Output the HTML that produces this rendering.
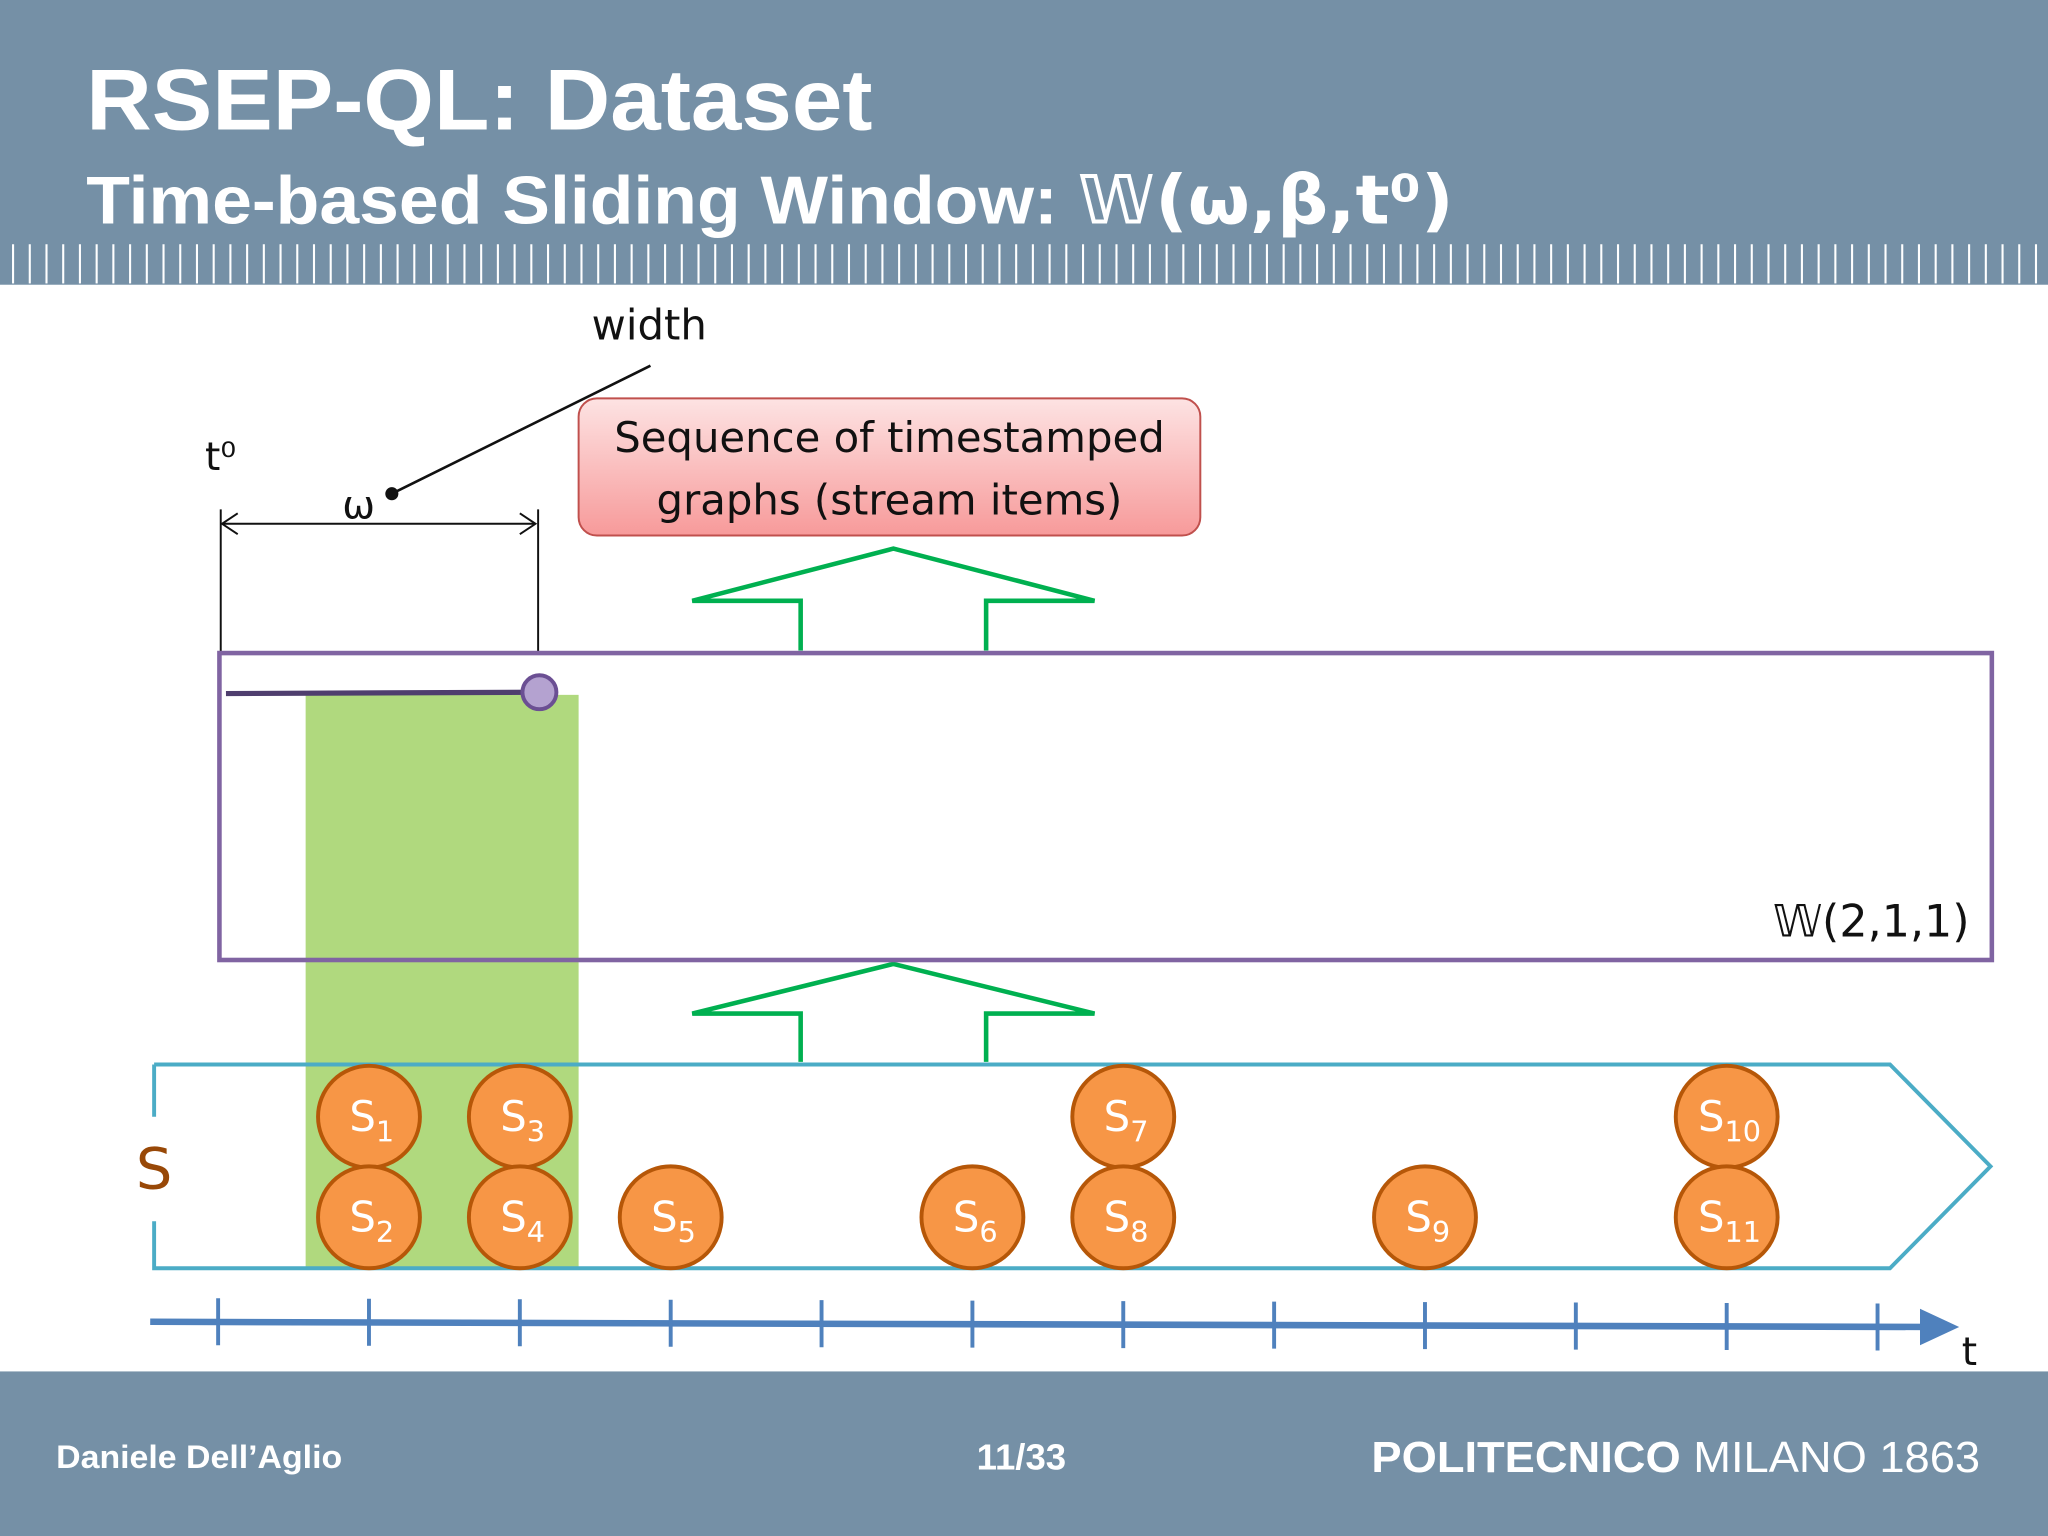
<!DOCTYPE html>
<html><head><meta charset="utf-8"><style>
html,body{margin:0;padding:0;background:#fff}
svg{display:block}
text{font-family:"Liberation Sans",sans-serif}
.c{font-family:"DejaVu Sans","Liberation Sans",sans-serif}
</style></head><body>
<svg id="s" width="2048" height="1536" viewBox="0 0 1568 1176" xmlns="http://www.w3.org/2000/svg">
<rect x="0" y="0" width="1568" height="218" fill="#7590a6"/>
<g id="stripes"></g>
<text x="66" y="99" font-size="66" font-weight="bold" fill="#fff" textLength="602" lengthAdjust="spacingAndGlyphs">RSEP-QL: Dataset</text>
<text x="66" y="171" font-size="52" font-weight="bold" fill="#fff" textLength="1047" lengthAdjust="spacingAndGlyphs">Time-based Sliding Window:  <tspan class="c">𝕎(ω,β,t⁰)</tspan></text>

<text x="453" y="260" font-size="32" class="c" fill="#111">width</text>
<line x1="498" y1="280" x2="300" y2="378" stroke="#111" stroke-width="2"/>
<circle cx="300" cy="378" r="5" fill="#111"/>
<text x="157" y="360" font-size="30" class="c" fill="#111">t⁰</text>
<text x="262" y="397" font-size="30" class="c" fill="#111">ω</text>
<line x1="169" y1="390" x2="169" y2="500" stroke="#111" stroke-width="1.5"/>
<line x1="412" y1="390" x2="412" y2="500" stroke="#111" stroke-width="1.5"/>
<line x1="171" y1="401" x2="410" y2="401" stroke="#111" stroke-width="1.5"/>
<path d="M182,393 L170,401 L182,409 M398,393 L410,401 L398,409" fill="none" stroke="#111" stroke-width="1.5"/>

<defs><linearGradient id="pg" x1="0" y1="0" x2="0" y2="1"><stop offset="0" stop-color="#fde3e3"/><stop offset="1" stop-color="#f79a9a"/></linearGradient></defs>
<rect x="443" y="305" width="476" height="105" rx="14" fill="url(#pg)" stroke="#c0504d" stroke-width="1.5"/>
<text x="681" y="346" font-size="32" class="c" text-anchor="middle" fill="#111">Sequence of timestamped</text>
<text x="681" y="394" font-size="32" class="c" text-anchor="middle" fill="#111">graphs (stream items)</text>

<path d="M613,498 V460 H530 L684,420 L838,460 H755 V498" fill="none" stroke="#00b050" stroke-width="3.5"/>
<path d="M613,813 V776 H530 L684,738 L838,776 H755 V813" fill="none" stroke="#00b050" stroke-width="3.5"/>

<rect x="234" y="532" width="209" height="438" fill="#b0d97e"/>
<rect x="168" y="500" width="1357" height="235" fill="none" stroke="#8064a2" stroke-width="3.5"/>
<line x1="173" y1="531" x2="413" y2="530" stroke="#4f3e6e" stroke-width="4"/>
<circle cx="413" cy="530" r="13" fill="#b4a2d0" stroke="#6b4f93" stroke-width="3"/>
<text x="1508" y="717" font-size="34" class="c" text-anchor="end" fill="#111">𝕎(2,1,1)</text>

<path d="M118,815 H1447 L1524,893 L1447,971 H118 V935 M118,855 V815" fill="none" stroke="#4bacc6" stroke-width="3"/>
<text x="104" y="910" font-size="44" class="c" fill="#984807">S</text>

<g id="items"></g>
<g id="axis"></g>
<text x="1502" y="1045" font-size="30" class="c" fill="#111">t</text>

<rect x="0" y="1050" width="1568" height="126" fill="#7590a6"/>
<text x="43" y="1124" font-size="25" font-weight="bold" fill="#fff" textLength="219" lengthAdjust="spacingAndGlyphs">Daniele Dell’Aglio</text>
<text x="782" y="1125" font-size="28" font-weight="bold" fill="#fff" text-anchor="middle">11/33</text>
<text x="1050" y="1127" font-size="33" fill="#fff" textLength="466" lengthAdjust="spacingAndGlyphs"><tspan font-weight="bold">POLITECNICO</tspan> MILANO 1863</text>
</svg>
<script>
const NS="http://www.w3.org/2000/svg";
const itemLabels=["1","2","3","4","5","6","7","8","9","10","11"];
const itemTicks=[1,1,2,2,3,5,6,6,8,10,10];
const itemRows=[0,1,0,1,1,1,0,1,1,0,1];
const tickCount=12;
const xOf=i=>167+115.5*i;
const yOf=r=>r===0?855:932;
function mk(tag,attrs,parent){const e=document.createElementNS(NS,tag);for(const k in attrs)e.setAttribute(k,attrs[k]);parent.appendChild(e);return e;}
const st=document.getElementById('stripes');
for(let x=10;x<1568;x+=12.8){const l=mk('line',{x1:x,y1:187,x2:x,y2:217,stroke:'#fff','stroke-width':1.6},st);

}
const ax=document.getElementById('axis');
const al=mk('line',{x1:115,y1:1012,x2:1485,y2:1016,stroke:'#4f81bd','stroke-width':5},ax);


const ah=mk('path',{d:'M1470,1002 L1500,1016 L1470,1030 Z',fill:'#4f81bd'},ax);


for(let i=0;i<tickCount;i++){const x=xOf(i),y=1012+4*i/11;const t=mk('line',{x1:x,y1:y-18,x2:x,y2:y+18,stroke:'#4f81bd','stroke-width':3},ax);

}
const it=document.getElementById('items');
itemLabels.forEach((lab,k)=>{const cx=xOf(itemTicks[k]),cy=yOf(itemRows[k]);
const g=mk('g',{},it);


mk('circle',{cx:cx,cy:cy,r:39,fill:'#f79646',stroke:'#b65708','stroke-width':3},g);
const t=mk('text',{x:cx-(lab.length>1?22:15),y:cy+11,'font-size':32,fill:'#fff',class:'c'},g);
t.textContent='S';
const sub=mk('tspan',{'font-size':22,dy:8},t);sub.textContent=lab;});
</script>
</body></html>
